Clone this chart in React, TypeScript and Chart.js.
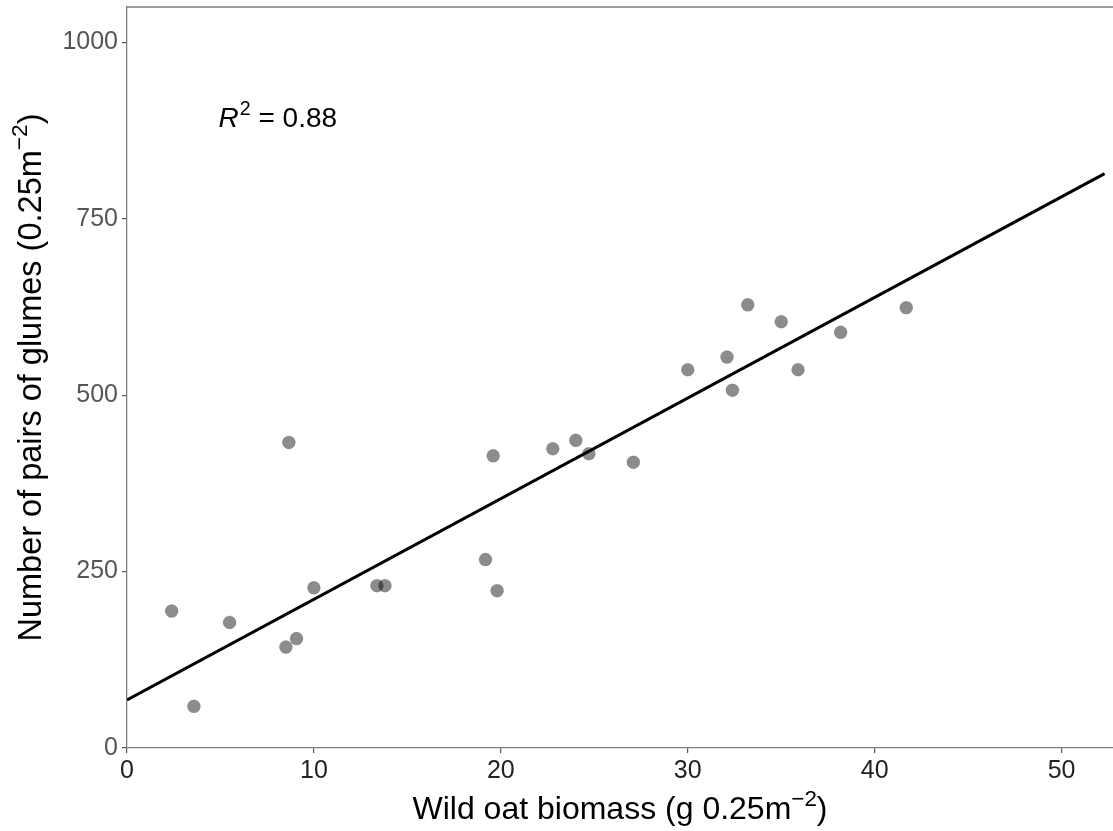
import React, { useEffect, useRef } from "react";
import { Chart, registerables } from "chart.js";

Chart.register(...registerables);

// ---- Data ----
const biomass = [2.39, 3.58, 5.49, 8.5, 8.66, 9.07, 10.0, 13.37, 13.8, 19.18, 19.59, 19.8, 22.78, 24.01, 24.71, 27.09, 30.0, 32.1, 32.39, 33.21, 35.0, 35.9, 38.18, 41.69];
const glumes = [194, 59, 178, 143, 433, 155, 227, 230, 230, 267, 414, 223, 424, 436, 417, 405, 536, 554, 507, 628, 604, 536, 589, 624];

const fitIntercept = 68;
const fitSlope = 14.26;
const fitRange = [0, 52.3];

const xTicks = [0, 10, 20, 30, 40, 50];
const yTicks = [0, 250, 500, 750, 1000];
const xLimits = [0, 52.75];
const yLimits = [0, 1050];

const xTitle = ["Wild oat biomass (g 0.25m", "\u22122", ")"];
const yTitle = ["Number of pairs of glumes (0.25m", "\u22122", ")"];
const r2Label = ["R", "2", " = 0.88"];
const r2Pos = { x: 4.9, y: 880 };

const FONT = "'Liberation Sans', Arial, sans-serif";
const AXIS_COLOR = "#7f7f7f";

function drawSupText(ctx: CanvasRenderingContext2D, parts: string[], size: number, cx: number, baseY: number, align: "center" | "left", italicFirst = false) {
  const supSize = size * 0.7;
  const fonts = [
    `${italicFirst ? "italic " : ""}${size}px ${FONT}`,
    `${supSize}px ${FONT}`,
    `${size}px ${FONT}`,
  ];
  const widths = parts.map((p, i) => {
    ctx.font = fonts[i];
    return ctx.measureText(p).width;
  });
  const total = widths.reduce((a, b) => a + b, 0);
  let x = align === "center" ? cx - total / 2 : cx;
  ctx.textAlign = "left";
  ctx.textBaseline = "alphabetic";
  parts.forEach((p, i) => {
    ctx.font = fonts[i];
    const dy = i === 1 ? -size * 0.42 : 0;
    ctx.fillText(p, x, baseY + dy);
    x += widths[i] + (i === 0 && italicFirst ? 1 : 0);
  });
}

const decorPlugin = {
  id: "decor",
  afterDraw(chart: any) {
    const { ctx, chartArea, scales } = chart;
    ctx.save();
    // top panel border
    ctx.strokeStyle = AXIS_COLOR;
    ctx.lineWidth = 1.3;
    ctx.beginPath();
    ctx.moveTo(chartArea.left, chartArea.top);
    ctx.lineTo(chartArea.right, chartArea.top);
    ctx.stroke();

    ctx.fillStyle = "#000";
    // x title
    drawSupText(ctx, xTitle, 32, (chartArea.left + chartArea.right) / 2, 819, "center");
    // y title
    ctx.save();
    ctx.translate(41, (chartArea.top + chartArea.bottom) / 2);
    ctx.rotate(-Math.PI / 2);
    drawSupText(ctx, yTitle, 32.5, 0, 0, "center");
    ctx.restore();
    // R^2 annotation
    const px = scales.x.getPixelForValue(r2Pos.x);
    const py = scales.y.getPixelForValue(r2Pos.y);
    drawSupText(ctx, r2Label, 28, px, py, "left", true);
    ctx.restore();
  },
};

export default function App() {
  const ref = useRef<HTMLCanvasElement>(null);

  useEffect(() => {
    document.body.style.margin = "0";
    const canvas = ref.current;
    if (!canvas) return;
    const chart = new Chart(canvas, {
      type: "scatter",
      data: {
        datasets: [
          {
            type: "line",
            label: "fit",
            data: fitRange.map((x) => ({ x, y: fitIntercept + fitSlope * x })),
            borderColor: "#000",
            borderWidth: 3,
            pointRadius: 0,
            fill: false,
            order: 1,
          } as any,
          {
            label: "points",
            data: biomass.map((x, i) => ({ x, y: glumes[i] })),
            backgroundColor: "rgba(0,0,0,0.45)",
            borderColor: "rgba(0,0,0,0.12)",
            borderWidth: 1,
            pointRadius: 6.5,
            order: 0,
          },
        ],
      },
      options: {
        responsive: false,
        animation: false,
        layout: { autoPadding: false, padding: { top: 7, right: 0, bottom: 0, left: 0 } },
        plugins: {
          legend: { display: false },
          tooltip: { enabled: false },
          title: { display: false },
        },
        scales: {
          x: {
            type: "linear",
            min: xLimits[0],
            max: xLimits[1],
            afterBuildTicks: (s: any) => {
              s.ticks = xTicks.map((v) => ({ value: v }));
            },
            afterFit: (s: any) => {
              s.height = 83;
              s.paddingLeft = 0;
              s.paddingRight = 0;
            },
            grid: { display: true, drawOnChartArea: false, drawTicks: true, tickLength: 5, color: "#555", lineWidth: 1.2 },
            border: { display: true, color: AXIS_COLOR, width: 1.3 },
            ticks: { color: "#222", font: { family: FONT, size: 25 }, padding: 3, maxRotation: 0, callback: (v: any) => String(v) },
          },
          y: {
            type: "linear",
            min: yLimits[0],
            max: yLimits[1],
            afterBuildTicks: (s: any) => {
              s.ticks = yTicks.map((v) => ({ value: v }));
            },
            afterFit: (s: any) => {
              s.width = 127;
              s.paddingTop = 0;
              s.paddingBottom = 0;
            },
            grid: { display: true, drawOnChartArea: false, drawTicks: true, tickLength: 5, color: "#555", lineWidth: 1.2 },
            border: { display: true, color: AXIS_COLOR, width: 1.3 },
            ticks: { color: "#555", font: { family: FONT, size: 25 }, padding: 4, callback: (v: any) => String(v) },
          },
        },
      },
      plugins: [decorPlugin],
    });
    return () => chart.destroy();
  }, []);

  return <canvas ref={ref} width={1113} height={831} style={{ display: "block" }} />;
}
